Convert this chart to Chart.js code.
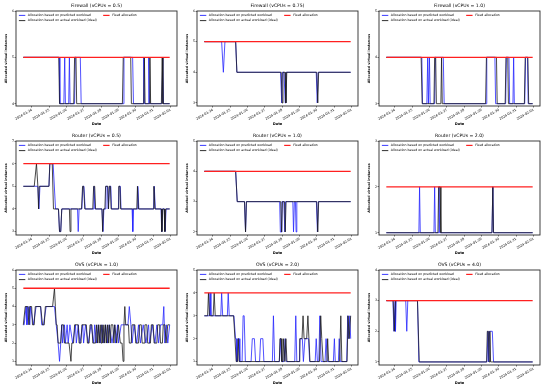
<!DOCTYPE html>
<html><head><meta charset="utf-8">
<script src="https://cdn.jsdelivr.net/npm/chart.js@4/dist/chart.umd.min.js"></script>
<style>html,body{margin:0;padding:0;background:#fff;width:550px;height:390px;overflow:hidden;position:relative}</style>
</head><body>
<script>
// ---- DATA (x = days since 2024-01-24 00:00, y = allocated virtual instances) ----
const dateLabels = ['2024-01-24','2024-01-25','2024-01-26','2024-01-27','2024-01-28','2024-01-29','2024-01-30','2024-01-31','2024-02-01'];
const panelTitles = ['Firewall (vCPUs = 0.5)','Firewall (vCPUs = 0.75)','Firewall (vCPUs = 1.0)',
                     'Router (vCPUs = 0.5)','Router (vCPUs = 1.0)','Router (vCPUs = 2.0)',
                     'OVS (vCPUs = 1.0)','OVS (vCPUs = 2.0)','OVS (vCPUs = 4.0)'];
const seriesNames = ['Allocation based on predicted workload','Allocation based on actual workload (ideal)','Fixed allocation'];
const fixedAllocation = [5,5,4, 6,4,2, 5,4,3];
const timeSpan = [-0.5, 7.95];
const yLimitsLow  = [3.95,2.9,2.95, 2.85,1.9,0.95, 0.8,0.85,0.9];
const yLimitsHigh = [6,6,5, 7,5,3, 6,5,4];

const fw05Predicted = [[-0.5,5],[1.57,5],[1.61,4],[1.84,4],[1.89,5],[1.93,4],[2.12,4],[2.16,5],[2.20,4],[2.46,4],[2.50,5],[2.79,5],[2.84,4],[5.27,4],[5.31,5],[5.81,5],[5.86,4],[6.41,4],[6.45,5],[6.49,4],[6.70,4],[6.74,5],[6.79,4],[7.50,4],[7.55,5],[7.59,4],[7.95,4]];
const fw05Actual = [[-0.5,5],[1.55,5],[1.59,4],[2.41,4],[2.46,5],[2.54,5],[2.58,4],[5.22,4],[5.27,5],[5.70,5],[5.74,4],[6.45,4],[6.49,5],[6.53,4],[6.77,4],[6.81,5],[6.85,4],[7.47,4],[7.52,5],[7.56,4],[7.95,4]];

const fw075Predicted = [[-0.5,5],[0.50,5],[0.60,4],[0.69,5],[1.31,5],[1.38,4],[3.90,4],[3.97,3],[4.01,4],[4.10,4],[4.17,3],[4.21,4],[5.96,4],[6.02,3],[6.07,4],[7.95,4]];
const fw075Actual = [[-0.5,5],[1.31,5],[1.38,4],[3.94,4],[3.99,3],[4.04,4],[4.16,4],[4.21,3],[4.26,4],[5.99,4],[6.05,3],[6.10,4],[7.95,4]];

const fw10Predicted = [[-0.5,4],[1.55,4],[1.59,3],[1.84,3],[1.89,4],[1.93,3],[1.95,3],[1.99,4],[2.03,3],[2.29,3],[2.33,4],[2.79,4],[2.84,3],[5.26,3],[5.30,4],[5.77,4],[5.81,3],[6.39,3],[6.43,4],[6.58,4],[6.62,3],[6.81,3],[6.85,4],[6.89,3],[7.49,3],[7.54,4],[7.65,4],[7.69,3],[7.95,3]];
const fw10Actual = [[-0.5,4],[1.51,4],[1.57,3],[2.25,3],[2.29,4],[2.35,4],[2.39,3],[2.65,3],[2.69,4],[2.73,3],[5.23,3],[5.28,4],[5.86,4],[5.90,3],[6.36,3],[6.41,4],[6.51,4],[6.55,3],[7.47,3],[7.52,4],[7.67,4],[7.72,3],[7.95,3]];

const router05Predicted = [[-0.5,5],[0.17,5],[0.34,5],[0.40,4],[0.46,5],[0.98,5],[1.03,6],[1.22,6],[1.36,4],[1.53,4],[1.59,3],[1.66,3],[1.72,4],[2.63,4],[2.67,3],[2.72,4],[2.88,4],[2.94,5],[3.00,5],[3.07,4],[3.53,4],[3.58,5],[3.64,4],[4.04,4],[4.10,3],[4.15,4],[4.23,4],[4.27,5],[4.36,5],[4.40,4],[4.48,5],[4.55,5],[4.59,4],[4.99,4],[5.03,5],[5.10,5],[5.14,4],[5.78,4],[5.82,3],[5.86,4],[6.07,4],[6.11,5],[6.17,4],[7.02,4],[7.06,5],[7.12,4],[7.45,4],[7.49,3],[7.53,4],[7.65,4],[7.69,3],[7.74,4],[7.95,4]];
const router05Actual = [[-0.5,5],[0.13,5],[0.26,6],[0.34,5],[0.38,4],[0.42,5],[0.98,5],[1.03,6],[1.17,6],[1.24,4],[1.53,4],[1.59,3],[1.66,3],[1.72,4],[2.16,4],[2.20,3],[2.25,4],[2.86,4],[2.92,5],[2.98,5],[3.05,4],[3.51,4],[3.56,5],[3.62,5],[3.67,4],[4.04,4],[4.08,3],[4.13,4],[4.21,4],[4.25,5],[4.38,5],[4.42,4],[4.46,5],[4.53,5],[4.57,4],[4.97,4],[5.01,5],[5.08,5],[5.12,4],[6.05,4],[6.09,5],[6.15,4],[7.00,4],[7.04,5],[7.10,4],[7.47,4],[7.50,3],[7.55,4],[7.63,4],[7.67,3],[7.72,4],[7.95,4]];

const router10Predicted = [[-0.5,4],[1.31,4],[1.40,3],[1.82,3],[1.88,2],[1.93,3],[3.85,3],[3.89,2],[3.94,2],[3.98,3],[4.09,3],[4.15,2],[4.19,3],[4.61,3],[4.65,2],[4.70,3],[4.76,3],[4.80,2],[4.84,3],[5.97,3],[6.03,2],[6.08,3],[7.95,3]];
const router10Actual = [[-0.5,4],[1.31,4],[1.40,3],[1.82,3],[1.88,2],[1.93,3],[3.91,3],[3.96,2],[4.01,3],[4.13,3],[4.17,2],[4.22,3],[5.99,3],[6.05,2],[6.10,3],[7.95,3]];

const router20Predicted = [[-0.5,1],[1.38,1],[1.42,2],[1.46,1],[2.25,1],[2.29,2],[2.33,1],[2.50,1],[2.54,2],[2.58,1],[5.60,1],[5.65,2],[5.69,1],[7.95,1]];
const router20Actual = [[-0.5,1],[2.48,1],[2.52,2],[2.60,2],[2.65,1],[5.60,1],[5.65,2],[5.69,1],[7.95,1]];

const ovs10Predicted = [[-0.5,3],[-0.45,3],[-0.34,4],[-0.29,3],[-0.18,4],[-0.13,3],[-0.08,4],[0.08,3],[0.24,4],[0.50,4],[0.56,3],[0.66,3],[0.82,4],[1.19,4],[1.30,4],[1.40,3],[1.51,2],[1.59,1],[1.66,2],[1.72,3],[1.77,2],[1.88,3],[1.93,2],[2.03,3],[2.09,2],[2.19,3],[2.35,2],[2.51,3],[2.56,2],[2.67,3],[2.77,2],[2.93,3],[2.98,2],[3.09,3],[3.25,2],[3.41,3],[3.57,2],[3.62,3],[3.72,2],[3.83,3],[3.94,2],[4.04,3],[4.15,2],[4.25,3],[4.36,2],[4.46,3],[4.62,2],[4.78,3],[4.83,2],[4.94,3],[4.99,2],[5.15,3],[5.31,3],[5.47,3],[5.54,3],[5.62,4],[5.71,3],[5.78,2],[5.89,3],[6.05,2],[6.15,3],[6.26,2],[6.42,3],[6.58,2],[6.73,3],[6.79,2],[6.94,3],[7.10,2],[7.21,3],[7.31,2],[7.42,3],[7.55,3],[7.61,4],[7.67,2],[7.76,3],[7.84,2],[7.95,3]];
const ovs10Actual = [[-0.5,3],[-0.39,4],[-0.24,4],[-0.18,3],[-0.13,4],[-0.02,4],[0.03,3],[0.13,3],[0.19,4],[0.50,4],[0.61,3],[0.71,3],[0.77,4],[1.19,4],[1.30,5],[1.35,4],[1.40,3],[1.45,3],[1.51,2],[1.66,2],[1.72,3],[1.82,3],[1.88,2],[2.14,2],[2.25,1],[2.30,2],[2.40,2],[2.46,3],[2.67,3],[2.72,2],[2.83,2],[2.88,3],[3.14,3],[3.20,2],[3.30,2],[3.35,3],[3.46,3],[3.51,2],[3.67,2],[3.72,3],[3.78,2],[3.83,3],[3.88,2],[3.94,3],[3.99,2],[4.04,3],[4.09,2],[4.15,3],[4.20,2],[4.25,3],[4.30,2],[4.36,3],[4.41,2],[4.46,3],[4.52,2],[4.57,3],[4.67,3],[4.73,2],[4.78,3],[4.89,2],[4.99,3],[5.10,2],[5.20,2],[5.26,1],[5.31,3],[5.36,4],[5.41,3],[5.57,3],[5.62,2],[5.73,2],[5.78,3],[5.94,3],[5.99,2],[6.15,2],[6.21,3],[6.31,3],[6.36,2],[6.47,2],[6.52,3],[6.63,3],[6.68,2],[6.84,2],[6.89,3],[7.00,3],[7.05,2],[7.21,2],[7.26,3],[7.37,3],[7.42,2],[7.53,2],[7.58,3],[7.68,3],[7.74,2],[7.84,3],[7.95,3]];

const ovs20Predicted = [[-0.5,3],[-0.21,3],[-0.17,4],[-0.12,3],[0.45,3],[0.50,4],[0.56,3],[0.83,3],[0.88,4],[0.94,3],[1.21,3],[1.30,2],[1.34,2],[1.38,1],[1.44,2],[1.51,2],[1.55,1],[1.68,1],[1.74,3],[1.80,3],[1.87,1],[2.20,1],[2.27,2],[2.39,2],[2.46,1],[2.69,1],[2.75,2],[2.88,2],[2.94,1],[3.43,1],[3.49,3],[3.56,1],[3.83,1],[3.89,2],[3.96,1],[4.10,1],[4.17,2],[4.23,1],[4.72,1],[4.78,3],[4.84,1],[4.99,1],[5.03,2],[5.16,2],[5.22,1],[5.31,2],[5.52,2],[5.58,1],[5.90,1],[5.96,2],[6.03,1],[6.11,1],[6.17,3],[6.24,1],[6.47,1],[6.53,2],[6.60,1],[6.95,1],[7.01,2],[7.06,1],[7.24,1],[7.29,2],[7.35,1],[7.72,1],[7.78,3],[7.84,2],[7.90,3],[7.95,2]];
const ovs20Actual = [[-0.5,3],[-0.31,3],[-0.26,4],[-0.20,3],[0.01,3],[0.07,4],[0.13,3],[1.19,3],[1.27,2],[1.34,1],[1.42,1],[1.46,2],[1.51,1],[3.83,1],[3.87,2],[3.94,2],[3.98,1],[4.04,1],[4.08,2],[4.15,1],[4.21,2],[4.27,1],[4.97,1],[5.01,2],[5.14,2],[5.20,3],[5.26,2],[5.41,2],[5.48,3],[5.54,2],[5.60,1],[6.15,1],[6.22,3],[6.28,2],[6.36,1],[6.58,1],[6.62,2],[6.68,1],[7.31,1],[7.38,3],[7.44,1],[7.74,1],[7.80,3],[7.86,2],[7.95,3]];

const ovs40Predicted = [[-0.5,3],[-0.12,3],[-0.06,2],[0.01,3],[0.03,2],[0.07,3],[0.62,3],[0.68,2],[0.74,3],[1.30,3],[1.38,1],[5.31,1],[5.37,2],[5.41,1],[5.46,2],[5.62,2],[5.69,1],[7.95,1]];
const ovs40Actual = [[-0.5,3],[-0.10,3],[-0.04,2],[0.03,3],[1.30,3],[1.40,1],[5.29,1],[5.33,2],[5.39,2],[5.43,1],[5.48,2],[5.52,1],[7.95,1]];

const predictedSeries = [fw05Predicted, fw075Predicted, fw10Predicted, router05Predicted, router10Predicted, router20Predicted, ovs10Predicted, ovs20Predicted, ovs40Predicted];
const actualSeries = [fw05Actual, fw075Actual, fw10Actual, router05Actual, router10Actual, router20Actual, ovs10Actual, ovs20Actual, ovs40Actual];

// ---- DRAWING ----
const FONT = '"DejaVu Sans", sans-serif';
const COLORS = ['#2424ff', '#1a1a1a', '#ff2020'];
const colX = [0, 181, 363], cellW = 183;
const rowY = [0, 129, 258], cellH = [129, 129, 132];
const plotTop = [11, 12, 12], plotBottom = [106, 106, 107];
const plotLeft = 16, plotWidth = 161;
const datePad = [2.8, 2.8, 4.6];

const decor = {
  id: 'decor',
  afterDraw(chart, args, opts) {
    const {ctx, chartArea: a} = chart;
    ctx.save();
    ctx.strokeStyle = '#2a2a2a'; ctx.lineWidth = 0.9;
    ctx.strokeRect(a.left, a.top, a.right - a.left, a.bottom - a.top);
    ctx.fillStyle = '#000';
    ctx.font = '4.6px ' + FONT; ctx.textAlign = 'center'; ctx.textBaseline = 'middle';
    ctx.fillText(opts.title, (a.left + a.right) / 2, a.top - 5.3);
    // legend (2 columns, column-major like matplotlib ncol=2, upper left)
    ctx.font = '3.2px ' + FONT; ctx.textAlign = 'left';
    const fs = 3.2, x1 = a.left + 2.9, rows = [a.top + 4.4, a.top + 9.6];
    const w1 = Math.max(ctx.measureText(seriesNames[0]).width, ctx.measureText(seriesNames[1]).width);
    const x2 = x1 + 2 * fs + 0.8 * fs + w1 + 2 * fs;
    const items = [[x1, rows[0]], [x1, rows[1]], [x2, rows[0]]];
    items.forEach(([x, y], k) => {
      ctx.strokeStyle = COLORS[k]; ctx.lineWidth = k === 2 ? 1.2 : 0.9;
      ctx.beginPath(); ctx.moveTo(x, y); ctx.lineTo(x + 2 * fs, y); ctx.stroke();
      ctx.fillStyle = '#000';
      ctx.fillText(seriesNames[k], x + 2.8 * fs, y);
    });
    ctx.restore();
  }
};

panelTitles.forEach((title, i) => {
  const r = Math.floor(i / 3), c = i % 3;
  const div = document.createElement('div');
  div.style.cssText = `position:absolute;left:${colX[c]}px;top:${rowY[r]}px;width:${cellW}px;height:${cellH[r]}px`;
  const cv = document.createElement('canvas');
  cv.width = cellW; cv.height = cellH[r];
  cv.style.width = cellW + 'px'; cv.style.height = cellH[r] + 'px';
  div.appendChild(cv); document.body.appendChild(div);
  const toXY = arr => arr.map(p => ({x: p[0], y: p[1]}));
  const fixedLine = timeSpan.map(t => ({x: t, y: fixedAllocation[i]}));
  const span = timeSpan[1] - timeSpan[0];
  new Chart(cv, {
    type: 'line',
    data: {
      datasets: [
        {label: seriesNames[0], data: toXY(predictedSeries[i]), borderColor: COLORS[0], borderWidth: 0.8, order: 3},
        {label: seriesNames[1], data: toXY(actualSeries[i]), borderColor: COLORS[1], borderWidth: 0.8, order: 2},
        {label: seriesNames[2], data: fixedLine, borderColor: COLORS[2], borderWidth: 1.3, order: 1}
      ]
    },
    plugins: [decor],
    options: {
      responsive: false, animation: false, events: [],
      elements: {point: {radius: 0}, line: {tension: 0}},
      layout: {padding: {left: 0, right: cellW - plotLeft - plotWidth, top: plotTop[r], bottom: 0}},
      plugins: {legend: {display: false}, tooltip: {enabled: false}, title: {display: false}, decor: {title}},
      scales: {
        x: {
          type: 'linear', min: timeSpan[0] - 0.05 * span, max: timeSpan[1] + 0.05 * span,
          afterBuildTicks: s => { s.ticks = dateLabels.map((_, k) => ({value: k})); },
          afterFit: s => { s.height = cellH[r] - plotBottom[r]; s.paddingLeft = 0; s.paddingRight = 0; },
          ticks: {autoSkip: false, minRotation: 30, maxRotation: 30, padding: 0.5, color: '#000',
                  font: {family: FONT, size: 3.3}, callback: v => dateLabels[Math.round(v)]},
          grid: {drawOnChartArea: false, drawTicks: true, tickLength: 1.5, color: '#222', lineWidth: 0.6},
          border: {display: false},
          title: {display: true, text: 'Date', color: '#000', font: {family: FONT, size: 3.6, weight: 'bold'},
                  padding: {top: 0, bottom: datePad[r]}}
        },
        y: {
          min: yLimitsLow[i], max: yLimitsHigh[i],
          afterBuildTicks: s => {
            const t = [];
            for (let v = Math.ceil(s.min); v <= Math.floor(s.max); v++) t.push({value: v});
            s.ticks = t;
          },
          afterFit: s => { s.width = plotLeft; s.paddingTop = 0; s.paddingBottom = 0; },
          ticks: {padding: 0.5, color: '#000', font: {family: FONT, size: 3.3}, callback: v => String(v)},
          grid: {drawOnChartArea: false, drawTicks: true, tickLength: 1.5, color: '#222', lineWidth: 0.6},
          border: {display: false},
          title: {display: true, text: 'Allocated virtual instances', color: '#000',
                  font: {family: FONT, size: 3.3, weight: 'bold'}, padding: {top: 3.8, bottom: 0}}
        }
      }
    }
  });
});
</script>
</body></html>
